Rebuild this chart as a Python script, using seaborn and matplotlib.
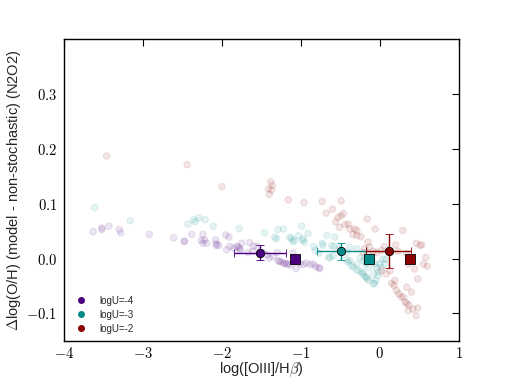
import numpy as np
import pandas as pd
import seaborn as sns
import matplotlib
matplotlib.use("Agg")
import matplotlib.pyplot as plt
from matplotlib.lines import Line2D
from matplotlib.ticker import FuncFormatter

# individual model points, log([OIII]/Hb) vs delta log(O/H)
x_u4 = [-3.63, -3.52, -3.52, -3.43, -3.30, -3.28, -2.92, -2.61, -2.48, -2.47, -2.38, -2.24,
        -2.22, -2.26, -2.24, -2.19, -2.08, -2.07, -2.04, -2.07, -1.95, -1.91, -1.94, -1.90,
        -1.85, -1.81, -1.79, -1.77, -1.77, -1.75, -1.67, -1.65, -1.61, -1.60, -1.55, -1.48,
        -1.43, -1.40, -1.35, -1.30, -1.29, -1.27, -1.25, -1.22, -1.20, -1.18, -1.16, -1.13,
        -1.10, -1.06, -1.01, -0.97, -0.93, -0.88, -0.84, -0.81, -0.77, -0.76]
y_u4 = [0.049, 0.056, 0.053, 0.059, 0.053, 0.047, 0.044, 0.038, 0.031, 0.032, 0.044, 0.044,
        0.034, 0.033, 0.028, 0.028, 0.034, 0.027, 0.024, 0.024, 0.043, 0.039, 0.016, 0.022,
        0.019, 0.022, 0.021, 0.018, 0.015, 0.028, 0.011, 0.029, 0.013, 0.023, 0.022, 0.011,
        0.007, 0.001, 0.004, 0.011, -0.004, -0.005, -0.006, -0.009, -0.008, -0.010, -0.010, -0.012,
        0.010, -0.018, -0.009, -0.011, -0.008, -0.011, -0.010, -0.015, -0.017, -0.018]

x_u3 = [-3.61, -3.16, -2.43, -2.36, -2.34, -2.29, -2.21, -2.11, -1.78, -1.46, -1.33, -1.31,
        -1.29, -1.22, -1.14, -1.12, -1.10, -1.08, -1.03, -0.99, -0.98, -0.97, -0.95, -0.91,
        -0.84, -0.82, -0.77, -0.73, -0.72, -0.67, -0.65, -0.63, -0.59, -0.57, -0.58, -0.52,
        -0.61, -0.42, -0.42, -0.40, -0.38, -0.38, -0.36, -0.33, -0.29, -0.29, -0.29, -0.25,
        -0.25, -0.22, -0.21, -0.21, -0.19, -0.19, -0.18, -0.17, -0.16, -0.14, -0.14, -0.08,
        -0.07, -0.06, -0.05, -0.04, -0.02, -0.02, 0.00, 0.02, 0.04, 0.06, 0.08, -0.08]
y_u3 = [0.093, 0.069, 0.063, 0.071, 0.067, 0.074, 0.071, 0.059, 0.055, 0.047, 0.039, 0.036,
        0.053, 0.054, 0.039, 0.036, 0.031, 0.033, 0.042, 0.059, 0.033, 0.036, 0.029, 0.046,
        0.022, 0.015, 0.010, 0.028, 0.024, 0.042, 0.002, 0.002, 0.005, 0.039, 0.022, 0.019,
        0.024, -0.002, 0.011, -0.007, 0.021, -0.004, -0.013, -0.016, -0.010, 0.018, -0.021, -0.023,
        0.002, -0.028, -0.025, -0.004, -0.033, 0.002, -0.010, -0.034, -0.037, -0.040, -0.016, -0.046,
        -0.045, -0.010, -0.040, -0.017, -0.031, -0.025, -0.009, -0.016, -0.001, -0.010, -0.001, -0.028]

x_u2 = [-3.46, -2.44, -2.00, -1.38, -1.36, -1.41, -1.37, -1.40, -1.16, -0.96, -0.73, -0.49,
        -0.68, -0.60, -0.46, -0.49, -0.53, -0.56, -0.51, -0.44, -0.40, -0.38, -0.32, -0.29,
        -0.34, -0.29, -0.24, -0.16, -0.06, -0.15, -0.13, -0.19, -0.21, -0.15, -0.08, -0.04,
        0.02, 0.06, 0.20, 0.29, 0.23, 0.34, 0.36, 0.44, 0.46, 0.51, 0.53, 0.58,
        0.55, 0.60, 0.48, 0.40, 0.34, 0.15, 0.18, 0.21, 0.24, 0.27, 0.32, 0.34,
        0.37, 0.42, 0.46, 0.36, 0.48, 0.30, 0.19, 0.08, 0.02, 0.13]
y_u2 = [0.187, 0.171, 0.131, 0.140, 0.133, 0.127, 0.125, 0.117, 0.107, 0.102, 0.104, 0.105,
        0.083, 0.090, 0.082, 0.078, 0.075, 0.067, 0.057, 0.062, 0.063, 0.054, 0.054, 0.051,
        0.044, 0.042, 0.040, 0.072, 0.054, 0.030, 0.021, 0.018, 0.011, 0.009, 0.013, 0.011,
        0.015, 0.022, 0.025, 0.051, 0.013, 0.009, -0.010, -0.019, 0.028, 0.024, 0.025, 0.002,
        -0.010, -0.014, -0.037, -0.061, -0.052, -0.045, -0.049, -0.058, -0.064, -0.070, -0.079, -0.082,
        -0.085, -0.092, -0.104, -0.095, -0.090, -0.070, -0.040, -0.028, -0.022, -0.022]

# mean of each group (circle, with errors) and the non-stochastic value (square)
labels = ["logU=-4", "logU=-3", "logU=-2"]
colors = ["#4B0082", "#008B8B", "#8B0000"]
mean_x = [-1.52, -0.49, 0.11]
mean_y = [0.011, 0.013, 0.013]
err_x = [0.33, 0.31, 0.28]
err_y = [0.014, 0.016, 0.031]
nonstoch_x = [-1.08, -0.14, 0.38]
nonstoch_y = [0.0, 0.0, 0.0]

df = pd.concat([
    pd.DataFrame({"x": x_u4, "y": y_u4, "logU": labels[0]}),
    pd.DataFrame({"x": x_u3, "y": y_u3, "logU": labels[1]}),
    pd.DataFrame({"x": x_u2, "y": y_u2, "logU": labels[2]}),
])

sns.set_style("white")
plt.rcParams["font.family"] = ["Liberation Sans", "DejaVu Sans"]
plt.rcParams["mathtext.fontset"] = "cm"

fig, ax = plt.subplots(figsize=(5.07, 3.8), dpi=100)
fig.subplots_adjust(left=0.126, right=0.905, bottom=0.103, top=0.897)

sns.scatterplot(data=df, x="x", y="y", hue="logU", palette=colors, hue_order=labels,
                s=22, alpha=0.1, edgecolor="face", linewidth=0.8, legend=False, ax=ax)

for i in range(3):
    ax.errorbar(mean_x[i], mean_y[i], xerr=err_x[i], yerr=err_y[i], fmt="o",
                color=colors[i], mec="k", mew=0.6, ms=6, capsize=3, elinewidth=1.0,
                capthick=0.8, zorder=5)
    ax.plot(nonstoch_x[i], nonstoch_y[i], "s", color=colors[i], mec="k", mew=0.6,
            ms=7, zorder=6)

ax.set_xlim(-4, 1)
ax.set_ylim(-0.15, 0.4)
ax.set_xticks([-4, -3, -2, -1, 0, 1])
ax.set_yticks([-0.1, 0.0, 0.1, 0.2, 0.3])
ax.xaxis.set_major_formatter(FuncFormatter(lambda v, p: r"$%d$" % v))
ax.yaxis.set_major_formatter(FuncFormatter(lambda v, p: r"$%.1f$" % v))
ax.tick_params(direction="in", length=5, width=0.8, top=True, right=True,
               labelsize=10.5, colors="k", pad=5)
ax.tick_params(axis="x", pad=3.5)
for sp in ax.spines.values():
    sp.set_color("k")
    sp.set_linewidth(1)

ax.set_xlabel(r"log([OIII]/H$\beta$)", fontsize=10.5, labelpad=0)
ax.set_ylabel(r"$\Delta$log(O/H) (model - non-stochastic) (N2O2)", fontsize=10.5,
              labelpad=2)

handles = [Line2D([], [], ls="", marker="o", color=c, ms=4) for c in colors]
ax.legend(handles, labels, loc="lower left", frameon=False, fontsize=7,
          handlelength=2.0, handletextpad=0.9, labelspacing=0.4, borderaxespad=0.35)

fig.savefig("out.png", dpi=100)
